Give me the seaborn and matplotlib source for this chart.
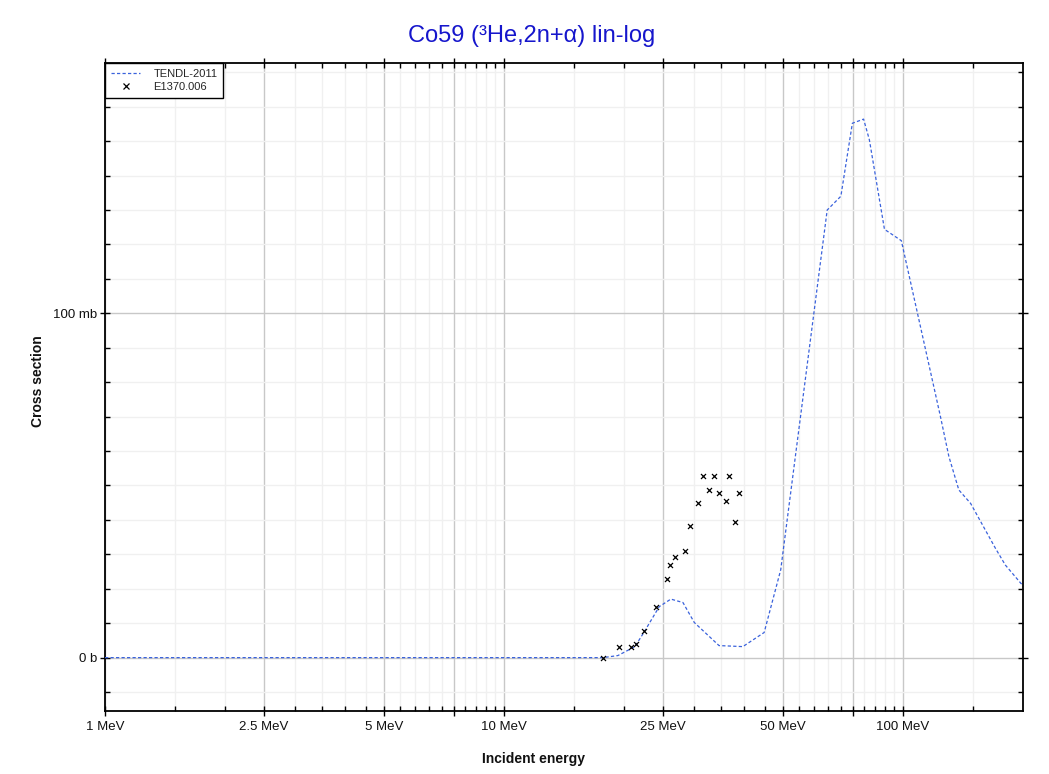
import numpy as np
import pandas as pd
import matplotlib
matplotlib.use("Agg")
import matplotlib.pyplot as plt
from matplotlib.ticker import FixedLocator, NullFormatter, FixedFormatter
from matplotlib.lines import Line2D
import seaborn as sns

# ---- data (energy in MeV, cross section in mb) ----
tendl_energy = [1.0, 17.7, 19.3, 21.3, 22.5, 24.5, 26.2, 28.1, 30.0, 34.6, 39.7, 44.9,
                49.4, 64.6, 69.9, 74.7, 79.7, 82.4, 89.9, 99.1, 124.2, 130.4, 138.1,
                147.8, 170.5, 180.6, 197.5, 200.0]
tendl_xs = [0.0, 0.0, 0.6, 3.2, 7.6, 14.8, 17.0, 16.0, 10.2, 3.5, 3.2, 7.3,
            25.5, 130.0, 134.0, 155.2, 156.4, 150.4, 124.4, 121.1, 70.0, 58.4, 48.7,
            44.8, 31.8, 26.9, 21.6, 21.0]

exp_energy = [17.7, 19.4, 20.8, 21.4, 22.4, 24.1, 25.6, 26.0, 26.9, 28.4, 29.2, 30.6,
              31.5, 32.6, 33.6, 34.6, 36.1, 36.7, 38.0, 38.8]
exp_xs = [0.0, 3.2, 3.2, 3.9, 7.6, 14.8, 22.9, 26.9, 29.2, 31.1, 38.3, 44.8,
          52.7, 48.7, 52.7, 47.9, 45.6, 52.7, 39.5, 47.9]

series_labels = ["TENDL-2011", "E1370.006"]
title_text = "Co59 (\u00b3He,2n+\u03b1) lin-log"
x_major = [1, 2.5, 5, 7.5, 10, 25, 50, 75, 100]
x_major_labels = ["1 MeV", "2.5 MeV", "5 MeV", "", "10 MeV", "25 MeV", "50 MeV", "", "100 MeV"]
x_minor = [1.5, 2, 3, 3.5, 4, 4.5, 5.5, 6, 6.5, 7, 8, 8.5, 9, 9.5,
           15, 20, 30, 35, 40, 45, 55, 60, 65, 70, 80, 85, 90, 95, 150]
y_major = [0, 100]
y_major_labels = ["0 b", "100 mb"]
y_minor = [-10, 10, 20, 30, 40, 50, 60, 70, 80, 90, 110, 120, 130, 140, 150, 160, 170]

sns.set_theme(style="white")
plt.rcParams['font.family'] = ['Liberation Sans', 'DejaVu Sans']

W, H = 1049, 774
fig = plt.figure(figsize=(W / 100, H / 100), dpi=100)
ax = fig.add_axes([105 / W, 1 - 711 / H, (1023 - 105) / W, (711 - 63) / H])

df_t = pd.DataFrame({"E": tendl_energy, "xs": tendl_xs})
df_e = pd.DataFrame({"E": exp_energy, "xs": exp_xs})

line_color = "#3a62dc"
sns.lineplot(data=df_t, x="E", y="xs", ax=ax, color=line_color, lw=0.9,
             linestyle=(0, (2.6, 1.8)), sort=False, estimator=None, zorder=3)
sns.scatterplot(data=df_e, x="E", y="xs", ax=ax, marker="x", color="black",
                s=13, linewidth=0.9, zorder=4)

ax.set_xscale("log")
ax.set_xlim(1, 200)
ax.set_ylim(-15.5, 172.7)

ax.xaxis.set_major_locator(FixedLocator(x_major))
ax.xaxis.set_major_formatter(FixedFormatter(x_major_labels))
ax.xaxis.set_minor_locator(FixedLocator(x_minor))
ax.xaxis.set_minor_formatter(NullFormatter())
ax.yaxis.set_major_locator(FixedLocator(y_major))
ax.yaxis.set_major_formatter(FixedFormatter(y_major_labels))
ax.yaxis.set_minor_locator(FixedLocator(y_minor))
ax.yaxis.set_minor_formatter(NullFormatter())

ax.grid(True, which="major", color="#c8c8c8", lw=1.0, zorder=0)
ax.grid(True, which="minor", color="#f0f0f0", lw=1.0, zorder=0)
ax.set_axisbelow(True)

for sp in ax.spines.values():
    sp.set_visible(True)
    sp.set_color("black")
    sp.set_linewidth(1.3)

ax.tick_params(which="major", direction="inout", length=7, width=1, color="black",
               top=True, right=True, bottom=True, left=True,
               labelsize=9.5, labelcolor="#111111")
ax.tick_params(which="minor", direction="in", length=3.5, width=1, color="black",
               top=True, right=True, bottom=True, left=True)
ax.tick_params(axis="x", which="major", pad=4)
ax.tick_params(axis="y", which="major", pad=2)

ax.set_xlabel("")
ax.set_ylabel("")

handles = [Line2D([], [], color=line_color, lw=0.9, linestyle=(0, (2.6, 1.8))),
           Line2D([], [], color="black", marker="x", lw=0, markersize=5, markeredgewidth=0.9)]
leg = ax.legend(handles, series_labels, loc="upper left", bbox_to_anchor=(0, 1),
                borderaxespad=0, fontsize=8, frameon=True, fancybox=False,
                edgecolor="black", framealpha=1, handlelength=2.6, handletextpad=1.2,
                borderpad=0.55, labelspacing=0.25)
leg.get_frame().set_linewidth(1.0)

fig.text(532 / W, 1 - 36 / H, title_text, ha="center", va="center",
         fontsize=17, color="#1616cc")
fig.text(533 / W, 1 - 759 / H, "Incident energy", ha="center", va="center",
         fontsize=10, fontweight="bold", color="#111111")
fig.text(38 / W, 1 - 381 / H, "Cross section", ha="center", va="center",
         rotation=90, fontsize=10, fontweight="bold", color="#111111")

fig.savefig("out.png", dpi=100)
